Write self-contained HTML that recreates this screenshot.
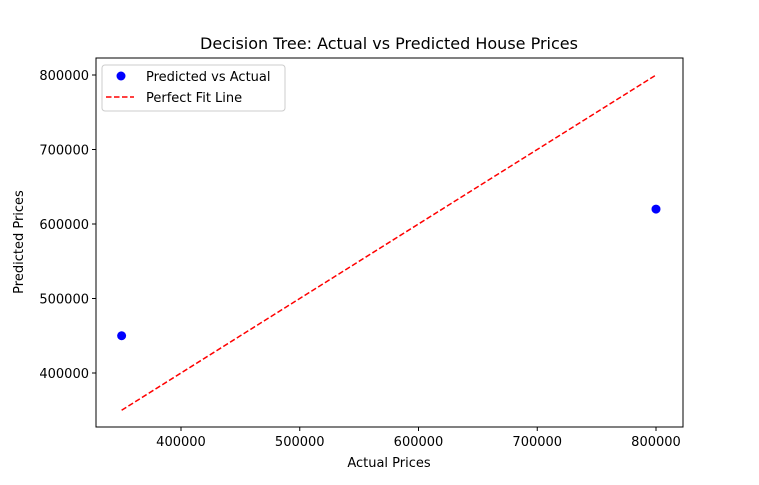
<!DOCTYPE html>
<html><head><meta charset="utf-8"><style>
body{margin:0;background:#fff;}
svg text{font-family:"DejaVu Sans","Liberation Sans",sans-serif;fill:#000;}
</style></head><body>
<svg id="chart" width="759" height="480" xmlns="http://www.w3.org/2000/svg">
<rect width="759" height="480" fill="#fff"/>
<text x="389" y="49" font-size="16" text-anchor="middle">Decision Tree: Actual vs Predicted House Prices</text>
<g id="xticks"></g><g id="yticks"></g>
<g id="marks"></g>
<rect x="96" y="58" width="587" height="369" fill="none" stroke="#000" stroke-width="1"/>
<text x="389" y="467" font-size="13" text-anchor="middle">Actual Prices</text>
<text transform="translate(23,242) rotate(-90)" font-size="13" text-anchor="middle">Predicted Prices</text>
<g>
<rect x="102" y="65" width="183" height="46" rx="3" fill="#fff" stroke="#ccc"/>
<circle cx="121" cy="76" r="4.5" fill="#0000ff"/>
<text x="146" y="81" font-size="13">Predicted vs Actual</text>
<line x1="106" y1="97" x2="134" y2="97" stroke="#ff0000" stroke-width="1.5" stroke-dasharray="5.5,2.5"/>
<text x="146" y="102" font-size="13">Perfect Fit Line</text>
</g>
</svg>
<script>
const actual = [350000, 800000];
const predicted = [450000, 620000];
const fitLine = [350000, 800000];
const xTicks = [400000, 500000, 600000, 700000, 800000];
const yTicks = [400000, 500000, 600000, 700000, 800000];

const NS = "http://www.w3.org/2000/svg";
function xs(v){return 181 + (v-400000)*(656-181)/400000;}
function ys(v){return 373 - (v-400000)*(373-75)/400000;}
function mk(tag, attrs, parent){const e=document.createElementNS(NS,tag);for(const k in attrs)e.setAttribute(k,attrs[k]);parent.appendChild(e);return e;}

const xg=document.getElementById('xticks');
xTicks.forEach(t=>{
  const l=mk('line',{x1:xs(t),x2:xs(t),y1:427,y2:431,stroke:'#000'},xg);
  
  
  const tx=mk('text',{x:xs(t),y:446,'font-size':13,'text-anchor':'middle'},xg);
  tx.textContent=t;
  
  
});
const yg=document.getElementById('yticks');
yTicks.forEach(t=>{
  const l=mk('line',{x1:92,x2:96,y1:ys(t),y2:ys(t),stroke:'#000'},yg);
  
  
  const tx=mk('text',{x:89,y:ys(t)+5,'font-size':13,'text-anchor':'end'},yg);
  tx.textContent=t;
  
  
});
const mg=document.getElementById('marks');
const fl=mk('line',{x1:xs(fitLine[0]),y1:ys(fitLine[0]),x2:xs(fitLine[1]),y2:ys(fitLine[1]),stroke:'#ff0000','stroke-width':1.5,'stroke-dasharray':'5.5,2.5'},mg);


actual.forEach((a,i)=>{
  const c=mk('circle',{cx:xs(a),cy:ys(predicted[i]),r:4.5,fill:'#0000ff'},mg);
  
  
});
</script>
</body></html>
